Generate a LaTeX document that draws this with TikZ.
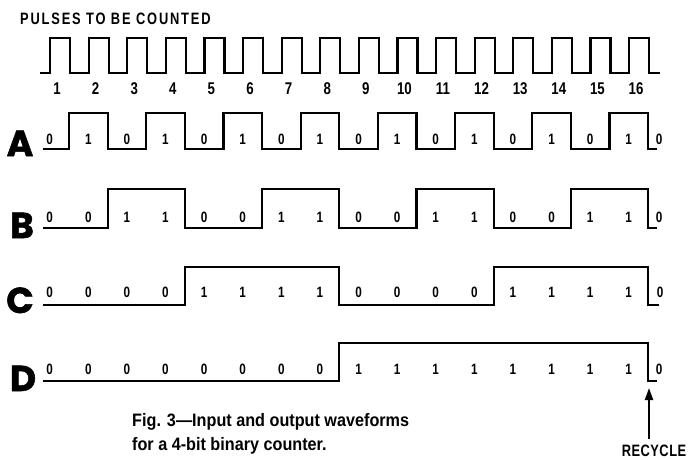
\documentclass[tikz,border=0pt]{standalone}
\usepackage{fontspec}
\setmainfont{Liberation Sans}
\newfontfamily\condfont[FakeStretch=0.78]{Liberation Sans}
\newfontfamily\capfont[FakeStretch=0.9]{Liberation Sans}
\newfontfamily\letterfont[BoldFeatures={FakeBold=1.5}]{Poppins}
\usetikzlibrary{arrows.meta}
\begin{document}
\begin{tikzpicture}[x=1pt,y=-1pt,
  wave/.style={line width=2.2pt, line join=miter, line cap=butt},
  num/.style={inner sep=0pt, font=\condfont\bfseries\fontsize{17}{17}\selectfont},
  val/.style={inner sep=0pt, font=\condfont\bfseries\fontsize{15}{15}\selectfont},
  rowname/.style={inner sep=0pt, anchor=base, font=\letterfont\bfseries\fontsize{36}{36}\selectfont},
  caption/.style={inner sep=0pt, anchor=base west, font=\capfont\bfseries\fontsize{18}{20}\selectfont},
  smallcaps/.style={inner sep=0pt, anchor=base, font=\condfont\bfseries\fontsize{16.5}{16.5}\selectfont}]
\useasboundingbox (0,0) rectangle (688,460);
% title
\node[smallcaps, anchor=base west] (title) at (20,25) {\addfontfeatures{LetterSpace=11}PULSES TO BE COUNTED};
% input pulses
\draw[wave] (40,73) \foreach \k in {0,...,15}{ -| ({50+38.6*\k},38) -| ({70+38.6*\k},73) } -- (660,73);
\foreach \n in {1,...,16}{
  \node[num] (p\n) at ({57+38.6*(\n-1)},89) {\n};
}
% row names
\node[rowname] (A) at (20,156) {A};
\node[rowname] (B) at (22,238) {B};
\node[rowname] (C) at (20,313) {C};
\node[rowname] (D) at (23,391) {D};
% waveform A
\draw[wave] (43,149) -| (69.0,113) -| (107.6,149) -| (146.2,113) -| (184.8,149) -| (223.4,113) -| (262.0,149) -| (300.6,113) -| (339.2,149) -| (377.8,113) -| (416.4,149) -| (455.0,113) -| (493.6,149) -| (532.2,113) -| (570.8,149) -| (609.4,113) -| (648.0,149) -- (657,149);
% waveform B
\draw[wave] (43,228) -| (107.6,189) -| (184.8,228) -| (262.0,189) -| (339.2,228) -| (416.4,189) -| (493.6,228) -| (570.8,189) -| (648.0,228) -- (657,228);
% waveform C
\draw[wave] (43,305) -| (184.8,267) -| (339.2,305) -| (493.6,267) -| (648.0,305) -- (659,305);
% waveform D
\draw[wave] (43,381) -| (339.2,343) -| (648.0,381) -- (657,381);
% state values
\foreach \j in {0,...,15}{
  \pgfmathtruncatemacro\va{mod(\j,2)}
  \pgfmathtruncatemacro\vb{mod(floor(\j/2),2)}
  \pgfmathtruncatemacro\vc{mod(floor(\j/4),2)}
  \pgfmathtruncatemacro\vd{mod(floor(\j/8),2)}
  \node[val] (a\j) at ({49.7+38.6*\j},139) {\va};
  \node[val] (b\j) at ({49.7+38.6*\j},217) {\vb};
  \node[val] (c\j) at ({49.7+38.6*\j},292) {\vc};
  \node[val] (d\j) at ({49.7+38.6*\j},369) {\vd};
}
\node[val] (a16) at (659,139) {0};
\node[val] (b16) at (659,217) {0};
\node[val] (c16) at (660,292) {0};
\node[val] (d16) at (659,369) {0};
% recycle arrow
\node[smallcaps] (rec) at (654,456) {\addfontfeatures{LetterSpace=3}RECYCLE};
\coordinate (tail) at (649,439);
\coordinate (tip) at (649,388);
\draw[line width=2pt, -{Triangle[length=12pt,width=8pt]}] (tail) -- (tip);
% caption
\node[caption] (cap1) at (132,426) {Fig. 3—Input and output waveforms};
\node[caption] (cap2) at (132,450) {for a 4-bit binary counter.};
\end{tikzpicture}
\end{document}
